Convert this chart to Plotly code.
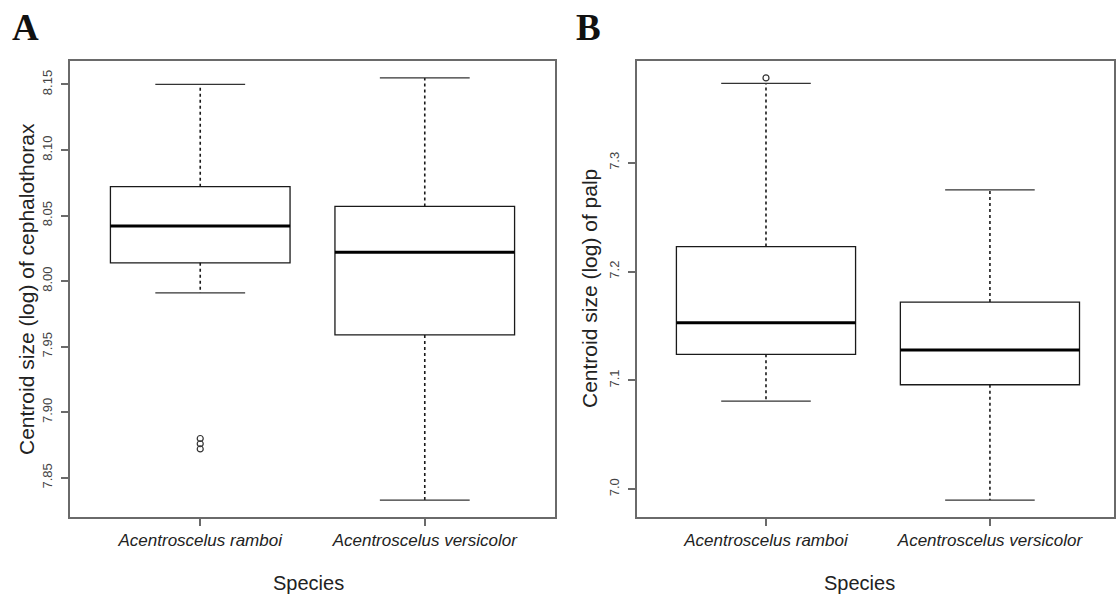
import plotly.graph_objects as go

W, H = 1116, 601

species = ["Acentroscelus ramboi", "Acentroscelus versicolor"]
tick_labels = ["<i>Acentroscelus ramboi</i>", "<i>Acentroscelus versicolor</i>"]

# Panel A: centroid size (log) of cephalothorax
a_low = [7.991, 7.833]
a_q1 = [8.014, 7.959]
a_med = [8.042, 8.022]
a_q3 = [8.072, 8.057]
a_high = [8.150, 8.155]
a_out_x = [1, 1, 1]
a_out_y = [7.872, 7.876, 7.880]

# Panel B: centroid size (log) of palp
b_low = [7.081, 6.990]
b_q1 = [7.124, 7.096]
b_med = [7.153, 7.128]
b_q3 = [7.223, 7.172]
b_high = [7.373, 7.275]
b_out_x = [1]
b_out_y = [7.378]

pos = [1, 2]
BOXW = 0.8
CAPW = 0.4

fig = go.Figure()

def add_panel(xa, ya, low, q1, med, q3, high, ox, oy):
    for i, p in enumerate(pos):
        fig.add_trace(go.Box(
            x=[p], q1=[q1[i]], median=[med[i]], q3=[q3[i]],
            lowerfence=[q1[i]], upperfence=[q3[i]],
            width=BOXW, whiskerwidth=0, boxpoints=False,
            fillcolor="white", line=dict(color="#1a1a1a", width=1.3),
            xaxis=xa, yaxis=ya, showlegend=False, hoverinfo="skip"))
        # dashed whiskers
        fig.add_trace(go.Scatter(
            x=[p, p, None, p, p], y=[q3[i], high[i], None, q1[i], low[i]],
            mode="lines", line=dict(color="#1a1a1a", width=1.6, dash="3px,3px"),
            xaxis=xa, yaxis=ya, showlegend=False, hoverinfo="skip"))
        # caps
        fig.add_trace(go.Scatter(
            x=[p - CAPW / 2, p + CAPW / 2, None, p - CAPW / 2, p + CAPW / 2],
            y=[high[i], high[i], None, low[i], low[i]],
            mode="lines", line=dict(color="#333333", width=1.3),
            xaxis=xa, yaxis=ya, showlegend=False, hoverinfo="skip"))
        # median
        fig.add_trace(go.Scatter(
            x=[p - BOXW / 2, p + BOXW / 2], y=[med[i], med[i]],
            mode="lines", line=dict(color="#000000", width=3),
            xaxis=xa, yaxis=ya, showlegend=False, hoverinfo="skip"))
    fig.add_trace(go.Scatter(
        x=ox, y=oy, mode="markers",
        marker=dict(symbol="circle-open", size=6, color="#333333", line=dict(width=1.2)),
        xaxis=xa, yaxis=ya, showlegend=False, hoverinfo="skip"))

add_panel("x", "y", a_low, a_q1, a_med, a_q3, a_high, a_out_x, a_out_y)
add_panel("x2", "y2", b_low, b_q1, b_med, b_q3, b_high, b_out_x, b_out_y)

def rng(lo, hi):
    ext = (hi - lo) * 0.04
    return [lo - ext, hi + ext]

a_all = a_low + a_high + a_out_y
b_all = b_low + b_high + b_out_y

frame_top = 1 - 61 / H
frame_bot = 1 - 517 / H

axis_common = dict(showline=True, mirror=True, linecolor="#6a6a6a", linewidth=2,
                   showgrid=False, zeroline=False, ticks="outside", ticklen=7,
                   tickcolor="#6a6a6a", tickwidth=1.5)

fig.update_layout(
    width=W, height=H,
    margin=dict(l=0, r=0, t=0, b=0),
    paper_bgcolor="white", plot_bgcolor="white",
    font=dict(family="Liberation Sans, Arial, sans-serif", color="#222222"),
    xaxis=dict(domain=[70 / W, 555 / W], range=[0.42, 2.58], tickvals=pos,
               ticktext=tick_labels, tickfont=dict(size=17, color="#222222"),
               anchor="y", **axis_common),
    yaxis=dict(domain=[frame_bot, frame_top], range=rng(min(a_all), max(a_all)),
               dtick=0.05, tick0=7.85, tickformat=".2f", tickangle=-90,
               ticklabelstandoff=4,
               tickfont=dict(size=13, color="#444444"), anchor="x", **axis_common),
    xaxis2=dict(domain=[637 / W, 1114 / W], range=[0.424, 2.554], tickvals=pos,
                ticktext=tick_labels, tickfont=dict(size=17, color="#222222"),
                anchor="y2", **axis_common),
    yaxis2=dict(domain=[frame_bot, frame_top], range=rng(min(b_all), max(b_all)),
                dtick=0.1, tick0=7.0, tickformat=".1f", tickangle=-90,
                ticklabelstandoff=4,
                tickfont=dict(size=13, color="#444444"), anchor="x2", **axis_common),
)

ann = []
ann.append(dict(text="<b>A</b>", x=10 / W, y=1 - 28 / H, xanchor="left", yanchor="middle",
                font=dict(family="Liberation Serif, Times New Roman, serif", size=37, color="#111111")))
ann.append(dict(text="<b>B</b>", x=574 / W, y=1 - 28 / H, xanchor="left", yanchor="middle",
                font=dict(family="Liberation Serif, Times New Roman, serif", size=37, color="#111111")))
ann.append(dict(text="Centroid size (log) of cephalothorax", x=26 / W, y=(frame_top + frame_bot) / 2,
                textangle=-90, xanchor="center", yanchor="middle", font=dict(size=21, color="#222222")))
ann.append(dict(text="Centroid size (log) of palp", x=589 / W, y=(frame_top + frame_bot) / 2,
                textangle=-90, xanchor="center", yanchor="middle", font=dict(size=21, color="#222222")))
ann.append(dict(text="Species", x=308 / W, y=1 - 583 / H, xanchor="center", yanchor="middle",
                font=dict(size=20, color="#222222")))
ann.append(dict(text="Species", x=860 / W, y=1 - 583 / H, xanchor="center", yanchor="middle",
                font=dict(size=20, color="#222222")))
for a in ann:
    a.update(xref="paper", yref="paper", showarrow=False)
fig.update_layout(annotations=ann)

fig.write_html("out.html")
